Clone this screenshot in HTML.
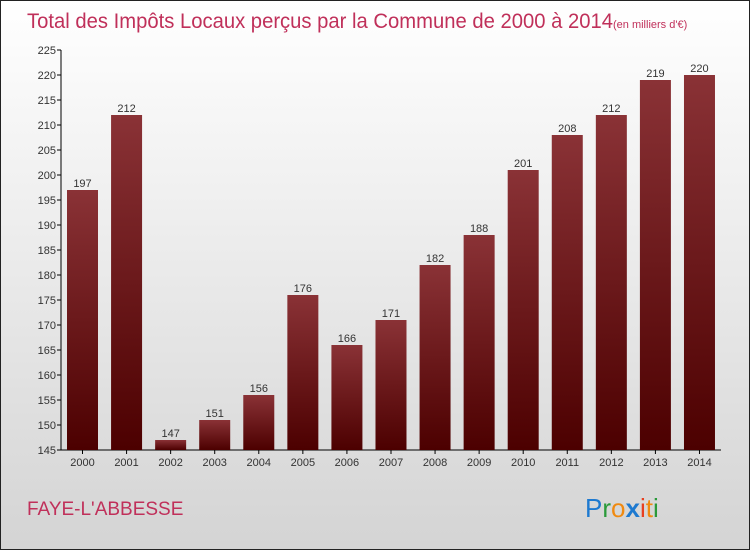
<!DOCTYPE html>
<html><head><meta charset="utf-8"><style>
body{margin:0}
#c{width:748px;height:548px;border:1px solid #222;background:linear-gradient(#fff,#d4d4d4);position:relative;font-family:"Liberation Sans",sans-serif;overflow:hidden}
</style></head><body>
<div id="c">
<svg id="s" width="748" height="548" xmlns="http://www.w3.org/2000/svg">
<defs><linearGradient id="g" x1="0" y1="0" x2="0" y2="1"><stop offset="0" stop-color="#8a3236"/><stop offset="1" stop-color="#4c0000"/></linearGradient></defs>
<text x="26" y="27" font-size="21" fill="#c0305a"><tspan textLength="586" lengthAdjust="spacingAndGlyphs">Total des Impôts Locaux perçus par la Commune de 2000 à 2014</tspan><tspan font-size="11">(en milliers d'€)</tspan></text>
<text x="26" y="514" font-size="19" fill="#c0305a">FAYE-L'ABBESSE</text>
<g font-size="26">
<text x="584" y="516"><tspan fill="#1e7ad0">P</tspan><tspan fill="#2a9a3a">r</tspan><tspan fill="#f08a10">o</tspan><tspan fill="#1e7ad0" font-weight="bold">x</tspan><tspan fill="#e84020">i</tspan><tspan fill="#f08a10">t</tspan><tspan fill="#2a9a3a">i</tspan></text></g>
<g id="plot"></g>
</svg></div>
<script>
const years=["2000","2001","2002","2003","2004","2005","2006","2007","2008","2009","2010","2011","2012","2013","2014"];
const values=[197,212,147,151,156,176,166,171,182,188,201,208,212,219,220];
const ticks=[145,150,155,160,165,170,175,180,185,190,195,200,205,210,215,220,225];
const NS="http://www.w3.org/2000/svg";
const p=document.getElementById('plot');
const y=v=>449-(v-145)*5;
const x=i=>66+i*44.07;
function mk(t,a){const e=document.createElementNS(NS,t);for(const k in a)e.setAttribute(k,a[k]);p.appendChild(e);return e;}
let ax=mk('path',{d:'M60 49V449H720',stroke:'#000',fill:'none'});


ticks.forEach(t=>{
 let l=mk('line',{x1:56,x2:60,y1:y(t),y2:y(t),stroke:'#000'});
 
 
 let tx=mk('text',{x:55,y:y(t)+4,'font-size':11,'text-anchor':'end',fill:'#333'});
 tx.textContent=t;
 
 
});
years.forEach((yr,i)=>{
 let r=mk('rect',{x:x(i),y:y(values[i]),width:31,height:449-y(values[i]),fill:'url(#g)'});
 
 
 let v=mk('text',{x:x(i)+15.5,y:y(values[i])-3,'font-size':11,'text-anchor':'middle',fill:'#333'});
 v.textContent=values[i];
 
 
 let l=mk('line',{x1:x(i)+15.5,x2:x(i)+15.5,y1:449,y2:453,stroke:'#000'});
 
 
 let t=mk('text',{x:x(i)+15.5,y:465,'font-size':11,'text-anchor':'middle',fill:'#333'});
 t.textContent=yr;
 
 
});
</script>
</body></html>
